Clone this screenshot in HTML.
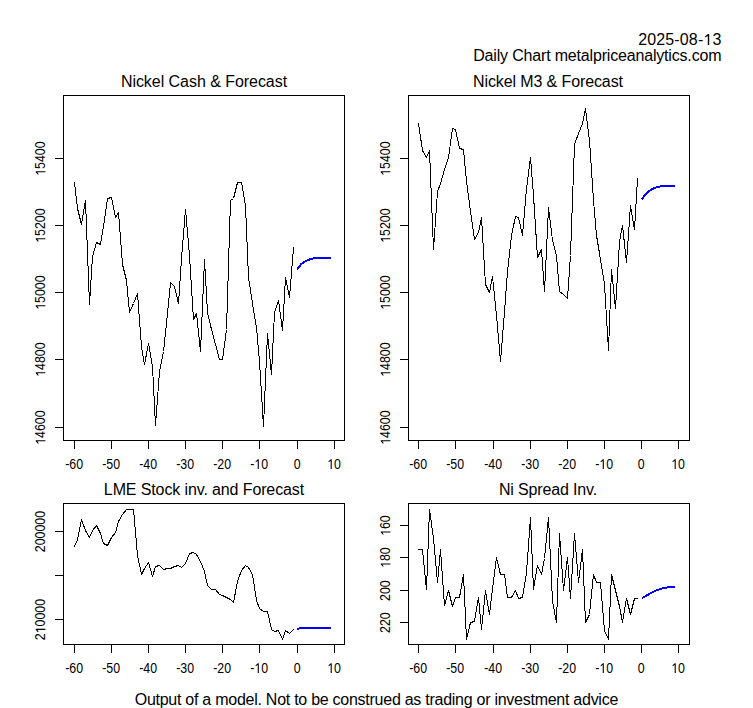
<!DOCTYPE html>
<html><head><meta charset="utf-8"><title>Nickel Daily Chart</title>
<style>
html,body{margin:0;padding:0;background:#fff;}
body{width:753px;height:708px;overflow:hidden;}
svg{display:block;}
.tt{font-family:"Liberation Sans",sans-serif;font-size:16px;fill:#000;}
.ax{font-family:"Liberation Sans",sans-serif;font-size:14px;fill:#000;}
.h{fill:transparent;}
</style></head>
<body>
<svg width="753" height="708" viewBox="0 0 753 708">
<rect width="753" height="708" fill="#fff"/>
<rect x="63.5" y="95.5" width="281" height="345" fill="none" stroke="#000" stroke-width="1" shape-rendering="crispEdges"/>
<path d="M74.5 441 V449 M111.5 441 V449 M148.5 441 V449 M185.5 441 V449 M222.5 441 V449 M259.5 441 V449 M297.5 441 V449 M334.5 441 V449 M55 158.5 H63 M55 225.5 H63 M55 292.5 H63 M55 359.5 H63 M55 427.5 H63" stroke="#000" stroke-width="1" fill="none" shape-rendering="crispEdges"/>
<text transform="translate(74.10 468.90) scale(0.885 1)" class="ax" text-anchor="middle">-60</text>
<text transform="translate(111.10 468.90) scale(0.885 1)" class="ax" text-anchor="middle">-50</text>
<text transform="translate(148.10 468.90) scale(0.885 1)" class="ax" text-anchor="middle">-40</text>
<text transform="translate(185.10 468.90) scale(0.885 1)" class="ax" text-anchor="middle">-30</text>
<text transform="translate(222.10 468.90) scale(0.885 1)" class="ax" text-anchor="middle">-20</text>
<text transform="translate(259.10 468.90) scale(0.885 1)" class="ax" text-anchor="middle">-<tspan class="h">1</tspan>0</text>
<text transform="translate(297.10 468.90) scale(0.885 1)" class="ax" text-anchor="middle">0</text>
<text transform="translate(334.10 468.90) scale(0.885 1)" class="ax" text-anchor="middle"><tspan class="h">1</tspan>0</text>
<text transform="translate(45.40 158.60) rotate(-90) scale(0.885 1)" class="ax" text-anchor="middle"><tspan class="h">1</tspan>5400</text>
<text transform="translate(45.40 225.60) rotate(-90) scale(0.885 1)" class="ax" text-anchor="middle"><tspan class="h">1</tspan>5200</text>
<text transform="translate(45.40 292.60) rotate(-90) scale(0.885 1)" class="ax" text-anchor="middle"><tspan class="h">1</tspan>5000</text>
<text transform="translate(45.40 359.60) rotate(-90) scale(0.885 1)" class="ax" text-anchor="middle"><tspan class="h">1</tspan>4800</text>
<text transform="translate(45.40 427.60) rotate(-90) scale(0.885 1)" class="ax" text-anchor="middle"><tspan class="h">1</tspan>4600</text>
<text x="204.0" y="86.6" class="tt" text-anchor="middle" textLength="166.2" lengthAdjust="spacing">Nickel Cash &amp; Forecast</text>
<polyline points="74.5,182.5 77.5,208.5 81.5,224.5 85.5,200.5 89.5,304.5 92.5,256.5 96.5,242.5 100.5,244.5 103.5,226.5 107.5,198.5 111.5,197.5 115.5,217.5 118.5,212.5 122.5,264.5 126.5,280.5 129.5,312.5 133.5,303.5 137.5,293.5 141.5,346.5 144.5,364.5 148.5,343.5 152.5,366.5 155.5,425.5 159.5,371.5 163.5,351.5 167.5,313.5 170.5,282.5 174.5,286.5 178.5,303.5 181.5,258.5 185.5,209.5 189.5,255.5 193.5,319.5 196.5,313.5 200.5,351.5 204.5,259.5 207.5,312.5 211.5,329.5 215.5,344.5 219.5,359.5 222.5,359.5 226.5,329.5 230.5,200.5 233.5,198.5 237.5,182.5 241.5,182.5 245.5,205.5 248.5,277.5 252.5,303.5 256.5,327.5 259.5,361.5 263.5,426.5 267.5,333.5 271.5,374.5 274.5,312.5 278.5,300.5 282.5,330.5 285.5,277.5 289.5,297.5 293.5,247.5" fill="none" stroke="#000" stroke-width="1" stroke-linejoin="round" stroke-linecap="round" shape-rendering="crispEdges"/>
<polyline points="297.34,269.40 301.05,264.20 304.77,261.60 308.48,259.80 312.20,258.60 315.91,258.10 319.62,258.00 323.34,258.00 327.05,258.00 330.77,258.00" fill="none" stroke="#0000ff" stroke-width="2" stroke-linecap="butt" stroke-linejoin="round" shape-rendering="crispEdges"/>
<rect x="408.5" y="95.5" width="281" height="345" fill="none" stroke="#000" stroke-width="1" shape-rendering="crispEdges"/>
<path d="M418.5 441 V449 M455.5 441 V449 M493.5 441 V449 M530.5 441 V449 M567.5 441 V449 M604.5 441 V449 M641.5 441 V449 M678.5 441 V449 M400 158.5 H408 M400 225.5 H408 M400 292.5 H408 M400 359.5 H408 M400 427.5 H408" stroke="#000" stroke-width="1" fill="none" shape-rendering="crispEdges"/>
<text transform="translate(418.10 468.90) scale(0.885 1)" class="ax" text-anchor="middle">-60</text>
<text transform="translate(455.10 468.90) scale(0.885 1)" class="ax" text-anchor="middle">-50</text>
<text transform="translate(493.10 468.90) scale(0.885 1)" class="ax" text-anchor="middle">-40</text>
<text transform="translate(530.10 468.90) scale(0.885 1)" class="ax" text-anchor="middle">-30</text>
<text transform="translate(567.10 468.90) scale(0.885 1)" class="ax" text-anchor="middle">-20</text>
<text transform="translate(604.10 468.90) scale(0.885 1)" class="ax" text-anchor="middle">-<tspan class="h">1</tspan>0</text>
<text transform="translate(641.10 468.90) scale(0.885 1)" class="ax" text-anchor="middle">0</text>
<text transform="translate(678.10 468.90) scale(0.885 1)" class="ax" text-anchor="middle"><tspan class="h">1</tspan>0</text>
<text transform="translate(390.40 158.60) rotate(-90) scale(0.885 1)" class="ax" text-anchor="middle"><tspan class="h">1</tspan>5400</text>
<text transform="translate(390.40 225.60) rotate(-90) scale(0.885 1)" class="ax" text-anchor="middle"><tspan class="h">1</tspan>5200</text>
<text transform="translate(390.40 292.60) rotate(-90) scale(0.885 1)" class="ax" text-anchor="middle"><tspan class="h">1</tspan>5000</text>
<text transform="translate(390.40 359.60) rotate(-90) scale(0.885 1)" class="ax" text-anchor="middle"><tspan class="h">1</tspan>4800</text>
<text transform="translate(390.40 427.60) rotate(-90) scale(0.885 1)" class="ax" text-anchor="middle"><tspan class="h">1</tspan>4600</text>
<text x="548.0" y="86.6" class="tt" text-anchor="middle" textLength="150.0" lengthAdjust="spacing">Nickel M3 &amp; Forecast</text>
<polyline points="418.5,123.5 422.5,150.5 426.5,157.5 429.5,150.5 433.5,249.5 437.5,191.5 440.5,183.5 444.5,169.5 448.5,157.5 452.5,128.5 455.5,129.5 459.5,148.5 463.5,149.5 466.5,181.5 470.5,211.5 474.5,239.5 478.5,232.5 481.5,217.5 485.5,284.5 489.5,292.5 492.5,276.5 496.5,315.5 500.5,361.5 504.5,311.5 507.5,271.5 511.5,235.5 515.5,216.5 518.5,217.5 522.5,235.5 526.5,188.5 530.5,157.5 533.5,195.5 537.5,257.5 541.5,249.5 544.5,291.5 548.5,207.5 552.5,240.5 556.5,255.5 559.5,291.5 563.5,294.5 567.5,298.5 570.5,255.5 574.5,144.5 578.5,133.5 582.5,123.5 585.5,108.5 589.5,140.5 593.5,200.5 596.5,235.5 600.5,259.5 604.5,284.5 608.5,350.5 611.5,269.5 615.5,308.5 619.5,241.5 622.5,225.5 626.5,262.5 630.5,205.5 634.5,229.5 637.5,178.5" fill="none" stroke="#000" stroke-width="1" stroke-linejoin="round" stroke-linecap="round" shape-rendering="crispEdges"/>
<polyline points="641.74,199.40 645.45,194.20 649.17,191.00 652.88,188.70 656.60,187.30 660.31,186.40 664.02,186.00 667.74,186.00 671.45,186.00 675.17,186.00" fill="none" stroke="#0000ff" stroke-width="2" stroke-linecap="butt" stroke-linejoin="round" shape-rendering="crispEdges"/>
<rect x="63.5" y="503.5" width="281" height="141" fill="none" stroke="#000" stroke-width="1" shape-rendering="crispEdges"/>
<path d="M74.5 645 V653 M111.5 645 V653 M148.5 645 V653 M185.5 645 V653 M222.5 645 V653 M259.5 645 V653 M297.5 645 V653 M334.5 645 V653 M55 531.5 H63 M55 575.5 H63 M55 619.5 H63" stroke="#000" stroke-width="1" fill="none" shape-rendering="crispEdges"/>
<text transform="translate(74.10 672.90) scale(0.885 1)" class="ax" text-anchor="middle">-60</text>
<text transform="translate(111.10 672.90) scale(0.885 1)" class="ax" text-anchor="middle">-50</text>
<text transform="translate(148.10 672.90) scale(0.885 1)" class="ax" text-anchor="middle">-40</text>
<text transform="translate(185.10 672.90) scale(0.885 1)" class="ax" text-anchor="middle">-30</text>
<text transform="translate(222.10 672.90) scale(0.885 1)" class="ax" text-anchor="middle">-20</text>
<text transform="translate(259.10 672.90) scale(0.885 1)" class="ax" text-anchor="middle">-<tspan class="h">1</tspan>0</text>
<text transform="translate(297.10 672.90) scale(0.885 1)" class="ax" text-anchor="middle">0</text>
<text transform="translate(334.10 672.90) scale(0.885 1)" class="ax" text-anchor="middle"><tspan class="h">1</tspan>0</text>
<text transform="translate(45.40 531.60) rotate(-90) scale(0.885 1)" class="ax" text-anchor="middle">200000</text>
<text transform="translate(45.40 619.60) rotate(-90) scale(0.885 1)" class="ax" text-anchor="middle">2<tspan class="h">1</tspan>0000</text>
<text x="204.0" y="494.6" class="tt" text-anchor="middle" textLength="200.3" lengthAdjust="spacing">LME Stock inv. and Forecast</text>
<polyline points="74.5,546.5 77.5,539.5 81.5,519.5 85.5,530.5 89.5,537.5 92.5,530.5 96.5,525.5 100.5,533.5 103.5,543.5 107.5,545.5 111.5,537.5 115.5,532.5 118.5,521.5 122.5,514.5 126.5,509.5 129.5,509.5 133.5,509.5 137.5,555.5 141.5,574.5 144.5,568.5 148.5,562.5 152.5,576.5 155.5,566.5 159.5,565.5 163.5,569.5 167.5,568.5 170.5,568.5 174.5,566.5 178.5,565.5 181.5,567.5 185.5,563.5 189.5,553.5 193.5,552.5 196.5,554.5 200.5,561.5 204.5,571.5 207.5,585.5 211.5,589.5 215.5,589.5 219.5,594.5 222.5,595.5 226.5,597.5 230.5,599.5 233.5,602.5 237.5,581.5 241.5,570.5 245.5,565.5 248.5,567.5 252.5,574.5 256.5,600.5 259.5,608.5 263.5,611.5 267.5,611.5 271.5,629.5 274.5,631.5 278.5,630.5 282.5,639.5 285.5,630.5 289.5,633.5 293.5,629.5" fill="none" stroke="#000" stroke-width="1" stroke-linejoin="round" stroke-linecap="round" shape-rendering="crispEdges"/>
<polyline points="297.34,629.20 301.05,627.60 304.77,627.60 308.48,627.60 312.20,627.60 315.91,627.60 319.62,627.60 323.34,627.60 327.05,627.60 330.77,627.60" fill="none" stroke="#0000ff" stroke-width="2" stroke-linecap="butt" stroke-linejoin="round" shape-rendering="crispEdges"/>
<rect x="408.5" y="503.5" width="281" height="141" fill="none" stroke="#000" stroke-width="1" shape-rendering="crispEdges"/>
<path d="M418.5 645 V653 M455.5 645 V653 M493.5 645 V653 M530.5 645 V653 M567.5 645 V653 M604.5 645 V653 M641.5 645 V653 M678.5 645 V653 M400 525.5 H408 M400 557.5 H408 M400 590.5 H408 M400 622.5 H408" stroke="#000" stroke-width="1" fill="none" shape-rendering="crispEdges"/>
<text transform="translate(418.10 672.90) scale(0.885 1)" class="ax" text-anchor="middle">-60</text>
<text transform="translate(455.10 672.90) scale(0.885 1)" class="ax" text-anchor="middle">-50</text>
<text transform="translate(493.10 672.90) scale(0.885 1)" class="ax" text-anchor="middle">-40</text>
<text transform="translate(530.10 672.90) scale(0.885 1)" class="ax" text-anchor="middle">-30</text>
<text transform="translate(567.10 672.90) scale(0.885 1)" class="ax" text-anchor="middle">-20</text>
<text transform="translate(604.10 672.90) scale(0.885 1)" class="ax" text-anchor="middle">-<tspan class="h">1</tspan>0</text>
<text transform="translate(641.10 672.90) scale(0.885 1)" class="ax" text-anchor="middle">0</text>
<text transform="translate(678.10 672.90) scale(0.885 1)" class="ax" text-anchor="middle"><tspan class="h">1</tspan>0</text>
<text transform="translate(390.40 525.60) rotate(-90) scale(0.885 1)" class="ax" text-anchor="middle"><tspan class="h">1</tspan>60</text>
<text transform="translate(390.40 557.60) rotate(-90) scale(0.885 1)" class="ax" text-anchor="middle"><tspan class="h">1</tspan>80</text>
<text transform="translate(390.40 590.60) rotate(-90) scale(0.885 1)" class="ax" text-anchor="middle">200</text>
<text transform="translate(390.40 622.60) rotate(-90) scale(0.885 1)" class="ax" text-anchor="middle">220</text>
<text x="548.0" y="494.6" class="tt" text-anchor="middle" textLength="98.2" lengthAdjust="spacing">Ni Spread Inv.</text>
<polyline points="418.5,549.5 422.5,549.5 426.5,589.5 429.5,509.5 433.5,538.5 437.5,582.5 440.5,549.5 444.5,605.5 448.5,590.5 452.5,606.5 455.5,597.5 459.5,597.5 463.5,574.5 466.5,639.5 470.5,622.5 474.5,621.5 478.5,597.5 481.5,629.5 485.5,590.5 489.5,614.5 492.5,588.5 496.5,557.5 500.5,574.5 504.5,574.5 507.5,597.5 511.5,597.5 515.5,590.5 518.5,598.5 522.5,597.5 526.5,572.5 530.5,517.5 533.5,589.5 537.5,565.5 541.5,574.5 544.5,558.5 548.5,517.5 552.5,601.5 556.5,622.5 559.5,533.5 563.5,590.5 567.5,557.5 570.5,598.5 574.5,533.5 578.5,582.5 582.5,549.5 585.5,622.5 589.5,614.5 593.5,574.5 596.5,582.5 600.5,582.5 604.5,630.5 608.5,639.5 611.5,574.5 615.5,590.5 619.5,606.5 622.5,622.5 626.5,598.5 630.5,614.5 634.5,598.5 637.5,598.5" fill="none" stroke="#000" stroke-width="1" stroke-linejoin="round" stroke-linecap="round" shape-rendering="crispEdges"/>
<polyline points="641.74,598.00 645.45,596.30 649.17,594.00 652.88,592.00 656.60,590.30 660.31,589.00 664.02,588.00 667.74,587.30 671.45,586.80 675.17,586.60" fill="none" stroke="#0000ff" stroke-width="2" stroke-linecap="butt" stroke-linejoin="round" shape-rendering="crispEdges"/>
<text x="721.3" y="45" class="tt" text-anchor="end" textLength="83.1" lengthAdjust="spacing">2025-08-<tspan class="h">1</tspan>3</text>
<text x="721.5" y="61" class="tt" text-anchor="end" textLength="248.3" lengthAdjust="spacing">Daily Chart metalpriceanalytics.com</text>
<text x="376.5" y="704.6" class="tt" text-anchor="middle" textLength="483.6" lengthAdjust="spacing">Output of a model. Not to be construed as trading or investment advice</text>
<g fill="#000"><path transform="translate(259.10 468.90) scale(0.885 1) translate(-5.444 0.000) scale(0.006836 -0.006836)" d="M570 0L570 1160L225 965L225 1135L600 1409L750 1409L750 0Z"/><path transform="translate(334.10 468.90) scale(0.885 1) translate(-7.777 0.000) scale(0.006836 -0.006836)" d="M570 0L570 1160L225 965L225 1135L600 1409L750 1409L750 0Z"/><path transform="translate(45.40 158.60) rotate(-90) scale(0.885 1) translate(-19.443 0.000) scale(0.006836 -0.006836)" d="M570 0L570 1160L225 965L225 1135L600 1409L750 1409L750 0Z"/><path transform="translate(45.40 225.60) rotate(-90) scale(0.885 1) translate(-19.443 0.000) scale(0.006836 -0.006836)" d="M570 0L570 1160L225 965L225 1135L600 1409L750 1409L750 0Z"/><path transform="translate(45.40 292.60) rotate(-90) scale(0.885 1) translate(-19.443 0.000) scale(0.006836 -0.006836)" d="M570 0L570 1160L225 965L225 1135L600 1409L750 1409L750 0Z"/><path transform="translate(45.40 359.60) rotate(-90) scale(0.885 1) translate(-19.443 0.000) scale(0.006836 -0.006836)" d="M570 0L570 1160L225 965L225 1135L600 1409L750 1409L750 0Z"/><path transform="translate(45.40 427.60) rotate(-90) scale(0.885 1) translate(-19.443 0.000) scale(0.006836 -0.006836)" d="M570 0L570 1160L225 965L225 1135L600 1409L750 1409L750 0Z"/><path transform="translate(604.10 468.90) scale(0.885 1) translate(-5.444 0.000) scale(0.006836 -0.006836)" d="M570 0L570 1160L225 965L225 1135L600 1409L750 1409L750 0Z"/><path transform="translate(678.10 468.90) scale(0.885 1) translate(-7.777 0.000) scale(0.006836 -0.006836)" d="M570 0L570 1160L225 965L225 1135L600 1409L750 1409L750 0Z"/><path transform="translate(390.40 158.60) rotate(-90) scale(0.885 1) translate(-19.443 0.000) scale(0.006836 -0.006836)" d="M570 0L570 1160L225 965L225 1135L600 1409L750 1409L750 0Z"/><path transform="translate(390.40 225.60) rotate(-90) scale(0.885 1) translate(-19.443 0.000) scale(0.006836 -0.006836)" d="M570 0L570 1160L225 965L225 1135L600 1409L750 1409L750 0Z"/><path transform="translate(390.40 292.60) rotate(-90) scale(0.885 1) translate(-19.443 0.000) scale(0.006836 -0.006836)" d="M570 0L570 1160L225 965L225 1135L600 1409L750 1409L750 0Z"/><path transform="translate(390.40 359.60) rotate(-90) scale(0.885 1) translate(-19.443 0.000) scale(0.006836 -0.006836)" d="M570 0L570 1160L225 965L225 1135L600 1409L750 1409L750 0Z"/><path transform="translate(390.40 427.60) rotate(-90) scale(0.885 1) translate(-19.443 0.000) scale(0.006836 -0.006836)" d="M570 0L570 1160L225 965L225 1135L600 1409L750 1409L750 0Z"/><path transform="translate(259.10 672.90) scale(0.885 1) translate(-5.444 0.000) scale(0.006836 -0.006836)" d="M570 0L570 1160L225 965L225 1135L600 1409L750 1409L750 0Z"/><path transform="translate(334.10 672.90) scale(0.885 1) translate(-7.777 0.000) scale(0.006836 -0.006836)" d="M570 0L570 1160L225 965L225 1135L600 1409L750 1409L750 0Z"/><path transform="translate(45.40 619.60) rotate(-90) scale(0.885 1) translate(-15.555 0.000) scale(0.006836 -0.006836)" d="M570 0L570 1160L225 965L225 1135L600 1409L750 1409L750 0Z"/><path transform="translate(604.10 672.90) scale(0.885 1) translate(-5.444 0.000) scale(0.006836 -0.006836)" d="M570 0L570 1160L225 965L225 1135L600 1409L750 1409L750 0Z"/><path transform="translate(678.10 672.90) scale(0.885 1) translate(-7.777 0.000) scale(0.006836 -0.006836)" d="M570 0L570 1160L225 965L225 1135L600 1409L750 1409L750 0Z"/><path transform="translate(390.40 525.60) rotate(-90) scale(0.885 1) translate(-11.666 0.000) scale(0.006836 -0.006836)" d="M570 0L570 1160L225 965L225 1135L600 1409L750 1409L750 0Z"/><path transform="translate(390.40 557.60) rotate(-90) scale(0.885 1) translate(-11.666 0.000) scale(0.006836 -0.006836)" d="M570 0L570 1160L225 965L225 1135L600 1409L750 1409L750 0Z"/><path transform=" translate(703.355 45.000) scale(0.007812 -0.007812)" d="M570 0L570 1160L225 965L225 1135L600 1409L750 1409L750 0Z"/></g>
</svg>
</body></html>
